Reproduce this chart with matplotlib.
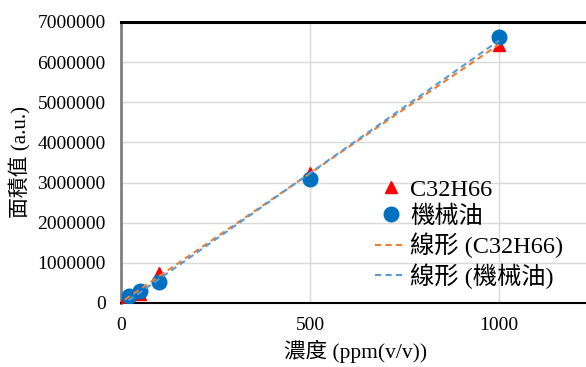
import numpy as np
import matplotlib
matplotlib.use("Agg")
import matplotlib.pyplot as plt

plt.rcParams['font.family'] = ['Liberation Serif', 'Noto Sans CJK TC', 'DejaVu Sans']

# data
c32_x = [10, 50, 100, 500, 1000]
c32_y = [100000, 230000, 750000, 3250000, 6430000]
oil_x = [20, 50, 100, 500, 1000]
oil_y = [180000, 290000, 520000, 3080000, 6620000]
xticks = [0, 500, 1000]
yticks = [0, 1000000, 2000000, 3000000, 4000000, 5000000, 6000000, 7000000]
label_c32 = "C32H66"
label_oil = "機械油"
xlabel = "濃度 (ppm(v/v))"
ylabel = "面積值 (a.u.)"

fig = plt.figure(figsize=(5.86, 3.67), dpi=100)
ax = fig.add_axes([0.2065, 0.1744, 0.80, 0.7657])

ax.set_xlim(0, 1240)
ax.set_ylim(0, 7000000)
ax.set_xticks(xticks)
ax.set_yticks(yticks)
ax.set_xticklabels([str(v) for v in xticks])
ax.set_yticklabels([str(v) for v in yticks])
ax.tick_params(length=0, labelsize=14)
ax.tick_params(axis='y', pad=11)
ax.tick_params(axis='x', pad=10)
ax.grid(True, color='#d9d9d9', lw=1)
ax.set_axisbelow(True)

ax.spines['right'].set_visible(False)
ax.spines['top'].set_color('black')
ax.spines['top'].set_linewidth(2.2)
ax.spines['bottom'].set_color('black')
ax.spines['bottom'].set_linewidth(1.5)
ax.spines['left'].set_color('#808080')
ax.spines['left'].set_linewidth(2.0)

# linear trend lines fitted to the data
p1 = np.polyfit(c32_x, c32_y, 1)
p2 = np.polyfit(oil_x, oil_y, 1)
fx1 = np.array([min(c32_x), max(c32_x)])
fx2 = np.array([min(oil_x), max(oil_x)])

ax.plot(c32_x, c32_y, linestyle='none', marker='^', color='#FF0000', markersize=9, label=label_c32, zorder=3)
ax.plot(oil_x, oil_y, linestyle='none', marker='o', color='#0070C0', markersize=10.5, label=label_oil, zorder=4)
ax.plot(fx1, np.polyval(p1, fx1), linestyle=(0, (3, 2)), color='#ED7D31', lw=1.5, label="線形 (C32H66)", zorder=5)
ax.plot(fx2, np.polyval(p2, fx2), linestyle=(0, (3, 2)), color='#5B9BD5', lw=1.5, label="線形 (機械油)", zorder=6)

ax.set_xlabel(xlabel, fontsize=15.5, labelpad=4)
ax.set_ylabel(ylabel, fontsize=15, labelpad=4)

leg = ax.legend(loc='lower left', bbox_to_anchor=(0.505, -0.01), frameon=False, fontsize=17.5,
                handlelength=1.3, handletextpad=0.15, labelspacing=0.2, borderpad=0.2)

fig.savefig("out.png", dpi=100)
